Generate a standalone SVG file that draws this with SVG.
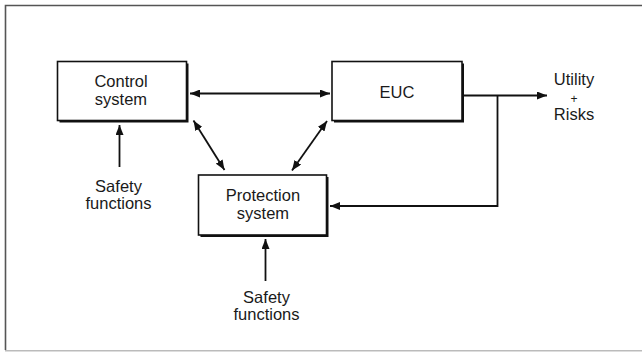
<svg xmlns="http://www.w3.org/2000/svg" width="642" height="352" viewBox="0 0 642 352">
<defs>
<style>
.box{fill:#fff;stroke:#111;stroke-width:1.6}
.shadow{fill:#111}
.t{font-family:"Liberation Sans",Arial,sans-serif;font-size:16.5px;fill:#1a1a1a;text-anchor:middle}
.ln{fill:none;stroke:#111;stroke-width:1.8}
</style>
<marker id="ah" viewBox="0 0 10 8" refX="10" refY="4" markerWidth="10" markerHeight="8" markerUnits="userSpaceOnUse" orient="auto-start-reverse">
<path d="M0,0 L10,4 L0,8 z" fill="#111"/>
</marker>
</defs>
<rect x="0" y="0" width="642" height="352" fill="#fff"/>
<path d="M5.5,350 L5.5,5.5 L642,5.5" fill="none" stroke="#555" stroke-width="1.6"/>
<line x1="5" y1="350.8" x2="642" y2="350.8" stroke="#bbb" stroke-width="1.4"/>

<g id="connectors">
<line class="ln" x1="190" y1="93.5" x2="330" y2="93.5" marker-start="url(#ah)" marker-end="url(#ah)"/>
<line class="ln" x1="193.5" y1="120.5" x2="224.5" y2="170" marker-start="url(#ah)" marker-end="url(#ah)"/>
<line class="ln" x1="327" y1="121" x2="292" y2="170.5" marker-start="url(#ah)" marker-end="url(#ah)"/>
<line class="ln" x1="462" y1="95.5" x2="547" y2="95.5" marker-end="url(#ah)"/>
<polyline class="ln" points="497.5,95.5 497.5,206 330,206" marker-end="url(#ah)"/>
<line class="ln" x1="119.5" y1="167" x2="119.5" y2="125" marker-end="url(#ah)"/>
<line class="ln" x1="265.5" y1="281" x2="265.5" y2="239" marker-end="url(#ah)"/>
</g>

<g id="control">
<rect class="shadow" x="59.5" y="63.5" width="129" height="59"/>
<rect class="box" x="57.5" y="61.5" width="129" height="59"/>
<text class="t" x="121" y="87">Control</text>
<text class="t" x="121" y="105">system</text>
</g>

<g id="euc">
<rect class="shadow" x="334" y="63.5" width="130" height="59"/>
<rect class="box" x="332" y="61.5" width="130" height="59"/>
<text class="t" x="397" y="98">EUC</text>
</g>

<g id="protection">
<rect class="shadow" x="200.5" y="177" width="128" height="60"/>
<rect class="box" x="198.5" y="175" width="128" height="60"/>
<text class="t" x="263" y="201">Protection</text>
<text class="t" x="263" y="219">system</text>
</g>

<g id="output">
<text class="t" x="574" y="84.5">Utility</text>
<text class="t" x="574" y="102.5" style="font-size:12px">+</text>
<text class="t" x="574" y="120">Risks</text>
</g>

<g id="safety1">
<text class="t" x="118.5" y="191.5">Safety</text>
<text class="t" x="118.5" y="208.5">functions</text>
</g>

<g id="safety2">
<text class="t" x="266.5" y="303">Safety</text>
<text class="t" x="266.5" y="320">functions</text>
</g>
</svg>
